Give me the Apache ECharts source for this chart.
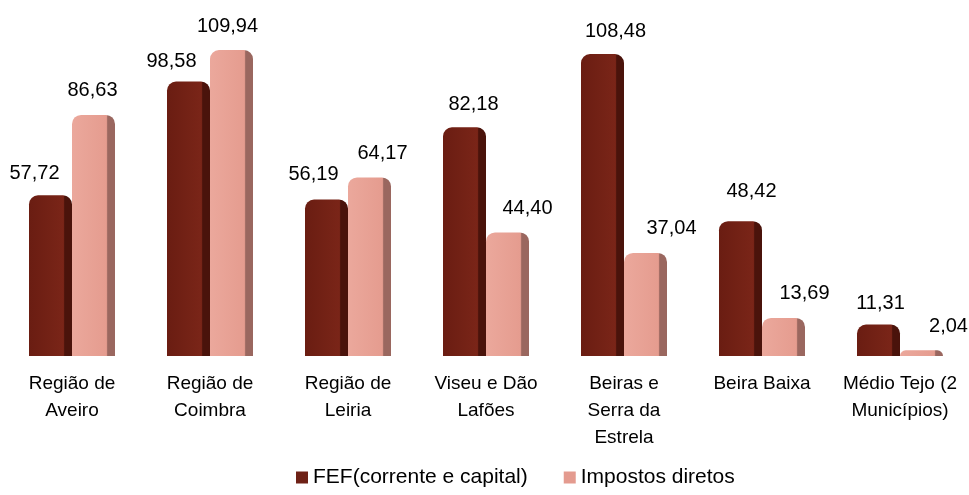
<!DOCTYPE html>
<html>
<head>
<meta charset="utf-8">
<script src="https://cdn.jsdelivr.net/npm/echarts@6/dist/echarts.min.js"></script>
<style>
  html, body { margin: 0; padding: 0; background: #fff; }
  #chart { width: 969px; height: 495px; }
</style>
</head>
<body>
<div id="chart"></div>
<script>
// data
var categorias = ['Região de\nAveiro', 'Região de\nCoimbra', 'Região de\nLeiria', 'Viseu e Dão\nLafões',
  'Beiras e\nSerra da\nEstrela', 'Beira Baixa', 'Médio Tejo (2\nMunicípios)'];
var fef = [57.72, 98.58, 56.19, 82.18, 108.48, 48.42, 11.31];
var impostos = [86.63, 109.94, 64.17, 44.40, 37.04, 13.69, 2.04];

// label nudges, the original places its labels a bit irregularly
var fefLabelShift = [[-16, 2], [-17, 4], [-13, -1], [9, 1], [13, 1], [11, -6], [2, 3]];
var impLabelShift = [[-1, 0], [-4, 0], [13, 0], [20, 0], [26, 0], [21, 0], [27, 0]];

var fonte = "'Liberation Sans Narrow', 'Arial Narrow', 'Liberation Sans', Arial, sans-serif";

function virgula(p) {
  return p.value.toFixed(2).replace('.', ',');
}

function grad(a, b, c) {
  return new echarts.graphic.LinearGradient(0, 0, 1, 0, [
    { offset: 0, color: a },
    { offset: 0.8, color: b },
    { offset: 0.83, color: c },
    { offset: 1, color: c }
  ]);
}

function comShift(vals, shift) {
  return vals.map(function (v, i) {
    return { value: v, label: { offset: shift[i] } };
  });
}

var chart = echarts.init(document.getElementById('chart'));
chart.setOption({
  animation: false,
  grid: { left: 3, right: -6, top: 22, bottom: 139 },
  legend: {
    bottom: 2,
    left: 291,
    itemWidth: 12,
    itemHeight: 12,
    itemGap: 36,
    textStyle: { fontFamily: fonte, fontSize: 21, color: '#000' },
    data: [
      { name: 'FEF(corrente e capital)', icon: 'rect', itemStyle: { color: '#6e2116' } },
      { name: 'Impostos diretos', icon: 'rect', itemStyle: { color: '#e49b8f' } }
    ]
  },
  xAxis: {
    type: 'category',
    data: categorias,
    axisLine: { show: false },
    axisTick: { show: false },
    axisLabel: {
      interval: 0,
      margin: 14,
      fontFamily: fonte,
      fontSize: 19,
      lineHeight: 27,
      color: '#000'
    }
  },
  yAxis: {
    type: 'value',
    min: 0,
    max: 120,
    show: false,
    splitLine: { show: false }
  },
  series: [
    {
      name: 'FEF(corrente e capital)',
      type: 'bar',
      data: comShift(fef, fefLabelShift),
      barWidth: 43,
      barGap: '0%',
      itemStyle: {
        color: grad('#6a1d12', '#7a2518', '#4a130b'),
        borderRadius: [9, 9, 0, 0]
      },
      label: {
        show: true,
        position: 'top',
        distance: 14,
        formatter: virgula,
        fontFamily: fonte,
        fontSize: 20,
        color: '#000'
      }
    },
    {
      name: 'Impostos diretos',
      type: 'bar',
      data: comShift(impostos, impLabelShift),
      barWidth: 43,
      itemStyle: {
        color: grad('#eba89c', '#e59c8f', '#9a675f'),
        borderRadius: [9, 9, 0, 0]
      },
      label: {
        show: true,
        position: 'top',
        distance: 14,
        formatter: virgula,
        fontFamily: fonte,
        fontSize: 20,
        color: '#000'
      }
    }
  ]
});
</script>
</body>
</html>
